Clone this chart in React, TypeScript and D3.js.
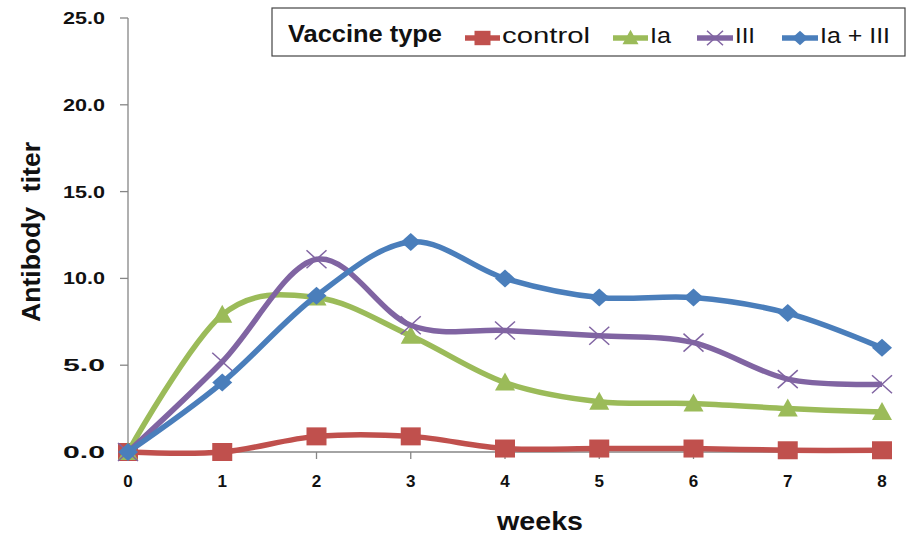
import React from "react";
import * as d3 from "d3";

const weeks = [0, 1, 2, 3, 4, 5, 6, 7, 8];
const control = [0, 0, 0.9, 0.9, 0.2, 0.2, 0.2, 0.1, 0.1];
const ia = [0, 7.9, 8.9, 6.7, 4.0, 2.9, 2.8, 2.5, 2.3];
const iii = [0, 5.2, 11.1, 7.3, 7.0, 6.7, 6.3, 4.2, 3.9];
const iaIii = [0, 4.0, 9.0, 12.1, 10.0, 8.9, 8.9, 8.0, 6.0];
const yTicks = [0, 5, 10, 15, 20, 25];
const seriesNames = ["control", "Ia", "III", "Ia + III"];
const seriesColors = ["#C0504D", "#9BBB59", "#8064A2", "#4A7EBB"];
const seriesMarkers = ["square", "triangle", "x", "diamond"];
const seriesValues = [control, ia, iii, iaIii];

const W = 910;
const H = 535;
const x = d3.scaleLinear().domain([0, 8]).range([128, 882]);
const y = d3.scaleLinear().domain([0, 25]).range([452, 18]);
const font = "'Liberation Sans', Arial, sans-serif";

function Marker({ type, cx, cy, color, s = 1 }: { type: string; cx: number; cy: number; color: string; s?: number }) {
  const w = 10 * s;
  const h = 9 * s;
  if (type === "square") return <rect x={cx - w} y={cy - h} width={2 * w} height={2 * h} fill={color} />;
  if (type === "triangle")
    return <path d={`M${cx},${cy - h - 1}L${cx + w},${cy + h - 1}L${cx - w},${cy + h - 1}Z`} fill={color} />;
  if (type === "diamond")
    return <path d={`M${cx},${cy - h}L${cx + w},${cy}L${cx},${cy + h}L${cx - w},${cy}Z`} fill={color} />;
  return (
    <g stroke={color} strokeWidth={1.5}>
      <line x1={cx - w} y1={cy - h} x2={cx + w} y2={cy + h} />
      <line x1={cx - w} y1={cy + h} x2={cx + w} y2={cy - h} />
    </g>
  );
}

export default function App() {
  const line = d3
    .line<number>()
    .x((_, i) => x(weeks[i]))
    .y((d) => y(d))
    .curve(d3.curveCatmullRom.alpha(0));

  const legendItems = [
    { x0: 465, x1: 500, tx: 502, tw: 88 },
    { x0: 613, x1: 648, tx: 650, tw: 21 },
    { x0: 697, x1: 733, tx: 735, tw: 20 },
    { x0: 782, x1: 818, tx: 820, tw: 70 },
  ];

  return (
    <svg width={W} height={H} style={{ position: "absolute", left: 0, top: 0 }} fontFamily={font}>
      <rect width={W} height={H} fill="#fff" />
      {/* axes */}
      <line x1={128} y1={y(25)} x2={128} y2={y(0)} stroke="#868686" strokeWidth={1.3} />
      <line x1={128} y1={y(0)} x2={882} y2={y(0)} stroke="#868686" strokeWidth={1.3} />
      {yTicks.map((t) => (
        <g key={t}>
          <line x1={120} x2={128} y1={y(t)} y2={y(t)} stroke="#868686" strokeWidth={1.3} />
          <text
            x={105}
            y={y(t) + 6}
            textAnchor="end"
            fontSize={17}
            fontWeight="bold"
            fill="#111"
            textLength={42}
            lengthAdjust="spacingAndGlyphs"
          >
            {t.toFixed(1)}
          </text>
        </g>
      ))}
      {weeks.map((w) => (
        <g key={w}>
          <line x1={x(w)} x2={x(w)} y1={y(0)} y2={y(0) + 7} stroke="#868686" strokeWidth={1.3} />
          <text x={x(w)} y={487} textAnchor="middle" fontSize={17} fontWeight="bold" fill="#111">
            {w}
          </text>
        </g>
      ))}
      <text
        x={540}
        y={530}
        textAnchor="middle"
        fontSize={25}
        fontWeight="bold"
        fill="#111"
        textLength={86}
        lengthAdjust="spacingAndGlyphs"
      >
        weeks
      </text>
      <text
        transform="translate(40,232) rotate(-90)"
        textAnchor="middle"
        fontSize={25}
        fontWeight="bold"
        fill="#111"
        textLength={180}
        lengthAdjust="spacingAndGlyphs"
        style={{ whiteSpace: "pre" }}
      >
        Antibody  titer
      </text>
      {/* series */}
      {seriesValues.map((vals, si) => (
        <g key={si}>
          <path d={line(vals) || ""} fill="none" stroke={seriesColors[si]} strokeWidth={5.5} strokeLinejoin="round" />
          {vals.map((v, i) => (
            <Marker key={i} type={seriesMarkers[si]} cx={x(weeks[i])} cy={y(v)} color={seriesColors[si]} />
          ))}
        </g>
      ))}
      {/* legend */}
      <rect x={272} y={8} width={633} height={48} fill="#fff" stroke="#444" strokeWidth={1.2} />
      <text
        x={288}
        y={42}
        fontSize={23}
        fontWeight="bold"
        fill="#111"
        textLength={154}
        lengthAdjust="spacingAndGlyphs"
      >
        Vaccine type
      </text>
      {legendItems.map((it, si) => (
        <g key={si}>
          <line x1={it.x0} x2={it.x1} y1={38} y2={38} stroke={seriesColors[si]} strokeWidth={5.5} />
          <Marker type={seriesMarkers[si]} cx={(it.x0 + it.x1) / 2} cy={38} color={seriesColors[si]} s={0.8} />
          <text
            x={it.tx}
            y={43}
            fontSize={22}
            fill="#111"
            textLength={it.tw}
            lengthAdjust="spacingAndGlyphs"
            style={{ whiteSpace: "pre" }}
          >
            {seriesNames[si]}
          </text>
        </g>
      ))}
    </svg>
  );
}
